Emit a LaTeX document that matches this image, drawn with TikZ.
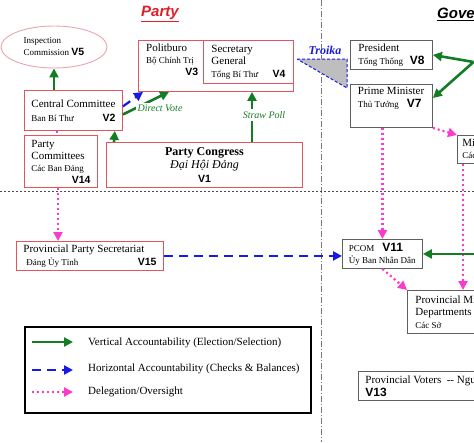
\documentclass[tikz,border=0pt]{standalone}
\usepackage{fontspec}
\setmainfont{Liberation Serif}
\setsansfont{Liberation Sans}
\usepackage{xcolor}
\usetikzlibrary{arrows.meta,calc,shapes.geometric}
\definecolor{PartyRed}{RGB}{225,85,95}
\definecolor{TitleRed}{RGB}{225,30,40}
\definecolor{EllipsePink}{RGB}{235,165,175}
\definecolor{GovGray}{RGB}{95,95,95}
\definecolor{VoteGreen}{RGB}{20,125,35}
\definecolor{CheckBlue}{RGB}{25,25,225}
\definecolor{DelegPink}{RGB}{250,60,205}
\definecolor{SepGray}{RGB}{120,120,120}
\definecolor{TroikaGray}{RGB}{190,190,190}
\newcommand{\vlab}[1]{{\fontsize{10.5}{12}\sffamily\bfseries\selectfont #1}}
\newcommand{\vbig}[1]{{\fontsize{12}{13}\sffamily\bfseries\selectfont #1}}
\newcommand{\vsmall}[1]{{\fontsize{9}{11}\selectfont #1}}

\begin{document}
\begin{tikzpicture}[x=1pt,y=-1pt,>={Triangle[length=9pt,width=9pt]},
  every node/.style={font=\fontsize{11}{13}\selectfont,inner sep=0pt},
  partybox/.style={draw=PartyRed,line width=0.9pt,anchor=north west,align=flush left,inner xsep=7pt},
  govbox/.style={draw=GovGray,line width=0.9pt,anchor=north west,align=flush left,inner xsep=7pt},
  edgebox/.style={draw=GovGray,line width=3pt,anchor=north west,minimum width=60pt},
  vote/.style={->,VoteGreen,line width=2.6pt},
  check/.style={->,CheckBlue,line width=2.2pt,dash pattern=on 9pt off 6pt},
  deleg/.style={->,DelegPink,line width=2.2pt,dash pattern=on 2pt off 3pt},
  armlabel/.style={font=\fontsize{10}{12}\itshape\selectfont,text=VoteGreen,fill=white,inner sep=2pt}]
  \useasboundingbox (0,0) rectangle (474,442);
  \clip (0,0) rectangle (474,442);
  \fill[white] (0,0) rectangle (474,442);

  % separators
  \draw[SepGray,line width=1pt,dash pattern=on 6pt off 2pt on 1pt off 2pt] (321,0) -- (321,442);
  \draw[black!70,line width=1pt,dash pattern=on 2pt off 2pt] (0,191) -- (474,191);

  % titles
  \node[font=\fontsize{15}{17}\sffamily\bfseries\itshape\selectfont,text=TitleRed] (tparty) at (160,14) {\underline{Party}};
  \node[font=\fontsize{15}{17}\sffamily\bfseries\itshape\selectfont,anchor=west] (tgov) at (437,14) {\underline{Government}};

  % Party side
  \node[ellipse,draw=EllipsePink,line width=0.9pt,minimum width=106pt,minimum height=42pt,align=flush left,font=\fontsize{9}{12}\selectfont] (insp) at (54,47) {Inspection\\Commission \vlab{V5}};
  \node[partybox,text width=84pt,minimum height=40pt,font=\fontsize{11}{14}\selectfont] (cc) at (24,90) {Central Committee\\\vsmall{Ban Bí Thư}\hfill\vlab{V2}\hspace*{8pt}};
  \node[partybox,text width=59pt,minimum height=52pt,font=\fontsize{11}{12}\selectfont] (pcm) at (24,135) {Party\\Committees\\\vsmall{Các Ban Đảng}\\\hfill\vlab{V14}};
  \node[partybox,text width=182pt,minimum height=45pt,align=flush center,font=\fontsize{12}{13.5}\selectfont] (pcg) at (106,142) {\textbf{Party Congress}\\\textit{Đại Hội Đảng}\\\vlab{V1}};
  \node[partybox,minimum width=155pt,minimum height=51pt] (pb) at (138,40) {};
  \node[anchor=north west,align=flush left,text width=52pt,font=\fontsize{11}{12}\selectfont] (pbt) at ($(pb.north west)+(8,4)$) {Politburo\\\vsmall{Bộ Chính Trị}\\\hfill\vlab{V3}};
  \node[partybox,text width=74pt,minimum height=43pt,inner xsep=8pt,font=\fontsize{11}{12.5}\selectfont] (sg) at (203,40) {Secretary\\General\\\vsmall{Tổng Bí Thư}\hfill\vlab{V4}};
  \node[partybox,text width=133pt,minimum height=29pt] (pps) at (16,241) {Provincial Party Secretariat\\\vsmall{\hspace*{3pt}Đảng Ủy Tỉnh}\hfill\vlab{V15}\hspace*{2pt}};

  % Troika
  \draw[CheckBlue,line width=1pt,dash pattern=on 3pt off 2pt,fill=TroikaGray] (297,59) -- (347,59) -- (347,88) -- cycle;
  \node[font=\fontsize{12}{14}\bfseries\itshape\selectfont,text=CheckBlue] (troika) at (325,50) {Troika};

  % Government side
  \node[govbox,text width=66pt,minimum height=29pt,inner xsep=8pt] (pres) at (350,40) {President\\\vsmall{Tổng Thống}\hfill\vbig{V8}};
  \node[govbox,text width=67pt,minimum height=43pt,inner xsep=7.5pt] (pm) at (350,84) {Prime Minister\\\vsmall{Thủ Tướng}\hspace{8pt}\vbig{V7}\\\strut};
  \node[edgebox,minimum height=29pt] (natl) at (473.5,53) {};
  \node[govbox,text width=80pt,minimum height=28pt,inner xsep=5pt,font=\fontsize{11}{12}\selectfont] (mins) at (457,135) {Ministries\\\vsmall{Các Bộ}};
  \node[govbox,text width=67pt,minimum height=29pt,inner xsep=6.5pt,font=\fontsize{9}{12}\selectfont] (pcom) at (342,239) {PCOM\hspace{8pt}\vbig{V11}\\Ủy Ban Nhân Dân};
  \node[edgebox,minimum height=47pt] (pcou) at (473.5,233) {};
  \node[govbox,text width=150pt,minimum height=43pt,inner xsep=8pt,font=\fontsize{11}{12.5}\selectfont] (pmd) at (407,290) {Provincial Ministry\\Departments\\\vsmall{Các Sở}};
  \node[govbox,text width=200pt,minimum height=29pt] (pv) at (358,371) {Provincial Voters~~-{}- Người Dân\\\vbig{V13}};

  % connectors
  \draw[vote] (cc.north -| insp.south) -- (insp.south);
  \draw[vote] ($(pcg.north west)+(8,0)$) -- ($(cc.south east)+(-8,0)$);
  \draw[deleg,-] ($(cc.south west)+(33,0)$) -- ($(pcm.north west)+(33,0)$);
  \draw[deleg] ($(pcm.south west)+(34,0)$) coordinate (dp) -- (dp |- pps.north);
  \draw[vote] ($(pcg.north west)+(146,0)$) coordinate (sp) -- (sp |- pb.south);
  \node[armlabel] (straw) at (264,115) {Straw Poll};
  \draw[check] ($(cc.east)+(0,-4)$) -- ($(pb.south west)+(5,0)$);
  \draw[vote] ($(cc.east)+(0,4)$) -- ($(pb.south west)+(31,0)$);
  \node[armlabel] (dvote) at (160,108) {Direct Vote};
  \draw[deleg] (pcom.north |- pm.south) -- (pcom.north);
  \draw[deleg] (pm.south east) -- (mins.north west);
  \draw[deleg] ($(mins.south west)+(6,0)$) coordinate (ms) -- (ms |- pmd.north);
  \draw[deleg] (pcom.south) -- (pmd.north west);
  \draw[vote] ($(natl.north west)+(0,9)$) coordinate (nw) -- (pres.east);
  \draw[vote] (nw) -- ($(pm.north east)+(0,14)$);
  \draw[vote] (pcou.west |- pcom.east) -- (pcom.east);
  \draw[check] (pps.east) -- (pps.east -| pcom.west);

  % legend
  \node[draw=black,line width=2pt,anchor=north west,minimum width=286pt,minimum height=86pt] (legend) at (24,326) {};
  \coordinate (lv) at (32,342);
  \coordinate (lh) at (32,370);
  \coordinate (ld) at (32,392);
  \draw[vote] (lv) -- ++(41,0);
  \draw[check] (lh) -- ++(41,0);
  \draw[deleg] (ld) -- ++(41,0);
  \node[anchor=west] (tv) at (88,343) {Vertical Accountability (Election/Selection)};
  \node[anchor=west] (th) at (88,369) {Horizontal Accountability (Checks \& Balances)};
  \node[anchor=west] (td) at (88,392) {Delegation/Oversight};
\end{tikzpicture}
\end{document}
